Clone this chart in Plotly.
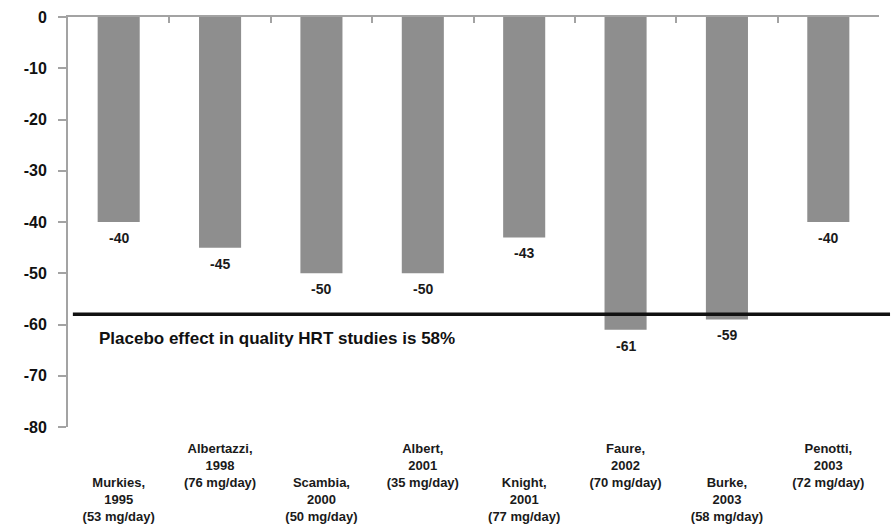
import plotly.graph_objects as go

# Study labels (author, year, daily isoflavone dose) and mean hot-flush change (%)
studies = [
    "Murkies,<br>1995<br>(53 mg/day)",
    "Albertazzi,<br>1998<br>(76 mg/day)",
    "Scambia,<br>2000<br>(50 mg/day)",
    "Albert,<br>2001<br>(35 mg/day)",
    "Knight,<br>2001<br>(77 mg/day)",
    "Faure,<br>2002<br>(70 mg/day)",
    "Burke,<br>2003<br>(58 mg/day)",
    "Penotti,<br>2003<br>(72 mg/day)",
]
change_pct = [-40, -45, -50, -50, -43, -61, -59, -40]
y_ticks = [0, -10, -20, -30, -40, -50, -60, -70, -80]
y_tick_text = ["0", "-10", "-20", "-30", "-40", "-50", "-60", "-70", "-80"]
PLACEBO_EFFECT = 58

FONT = "Liberation Sans, Arial, sans-serif"
AXIS_GREY = "#a3a3a3"
BAR_GREY = "#8e8e8e"

cats = list(range(len(studies)))
# alternate label rows so the long labels do not collide
tick_text = [("<br><br>" + s) if i % 2 == 0 else s for i, s in enumerate(studies)]

fig = go.Figure()
fig.add_trace(go.Bar(
    x=cats, y=change_pct,
    marker=dict(color=BAR_GREY, line=dict(width=0)),
    showlegend=False, hoverinfo="skip",
))
# helper trace so the top category axis gets drawn
fig.add_trace(go.Scatter(x=[None], y=[None], xaxis="x2", yaxis="y",
                         showlegend=False, hoverinfo="skip"))

# value labels under each bar end
for c, v in zip(cats, change_pct):
    fig.add_annotation(x=c, y=v, xref="x", yref="y", text=str(v),
                       showarrow=False, yshift=-16,
                       font=dict(family=FONT, size=14, color="#1a1a1a", weight="bold"))

# placebo reference line
fig.add_shape(type="line", xref="paper", yref="y",
              x0=0.006, x1=1.0136, y0=-PLACEBO_EFFECT, y1=-PLACEBO_EFFECT,
              line=dict(color="#111111", width=3.5), layer="above")
fig.add_annotation(xref="paper", yref="y", x=0.036, y=-62.8,
                   xanchor="left", yanchor="middle", showarrow=False,
                   text=f"Placebo effect in quality HRT studies is {PLACEBO_EFFECT}%",
                   font=dict(family=FONT, size=17, color="#111111", weight="bold"))

fig.update_layout(
    width=893, height=525,
    margin=dict(l=68, r=14, t=17, b=98),
    paper_bgcolor="white", plot_bgcolor="white",
    bargap=0.585,
    xaxis=dict(
        tickmode="array", tickvals=cats, ticktext=tick_text,
        range=[-0.5, len(cats) - 0.5],
        showline=False, showgrid=False, zeroline=False, ticks="",
        ticklabelstandoff=12, automargin=False,
        tickfont=dict(family=FONT, size=13, color="#1a1a1a", weight="bold"),
    ),
    xaxis2=dict(
        overlaying="x", side="top", anchor="y",
        range=[-0.5, len(cats) - 0.5],
        tickmode="array", tickvals=[c + 0.5 for c in cats],
        showticklabels=False, ticks="inside", ticklen=6, tickwidth=2,
        tickcolor=AXIS_GREY,
        showline=True, linecolor=AXIS_GREY, linewidth=2,
        showgrid=False, zeroline=False, automargin=False,
    ),
    yaxis=dict(
        range=[-80, 0], tickmode="array", tickvals=y_ticks, ticktext=y_tick_text,
        showline=True, linecolor=AXIS_GREY, linewidth=2,
        ticks="outside", ticklen=8, tickwidth=2, tickcolor=AXIS_GREY,
        ticklabelstandoff=8, automargin=False,
        showgrid=False, zeroline=False,
        tickfont=dict(family=FONT, size=16, color="#111111", weight="bold"),
    ),
)

fig.write_html("out.html")
